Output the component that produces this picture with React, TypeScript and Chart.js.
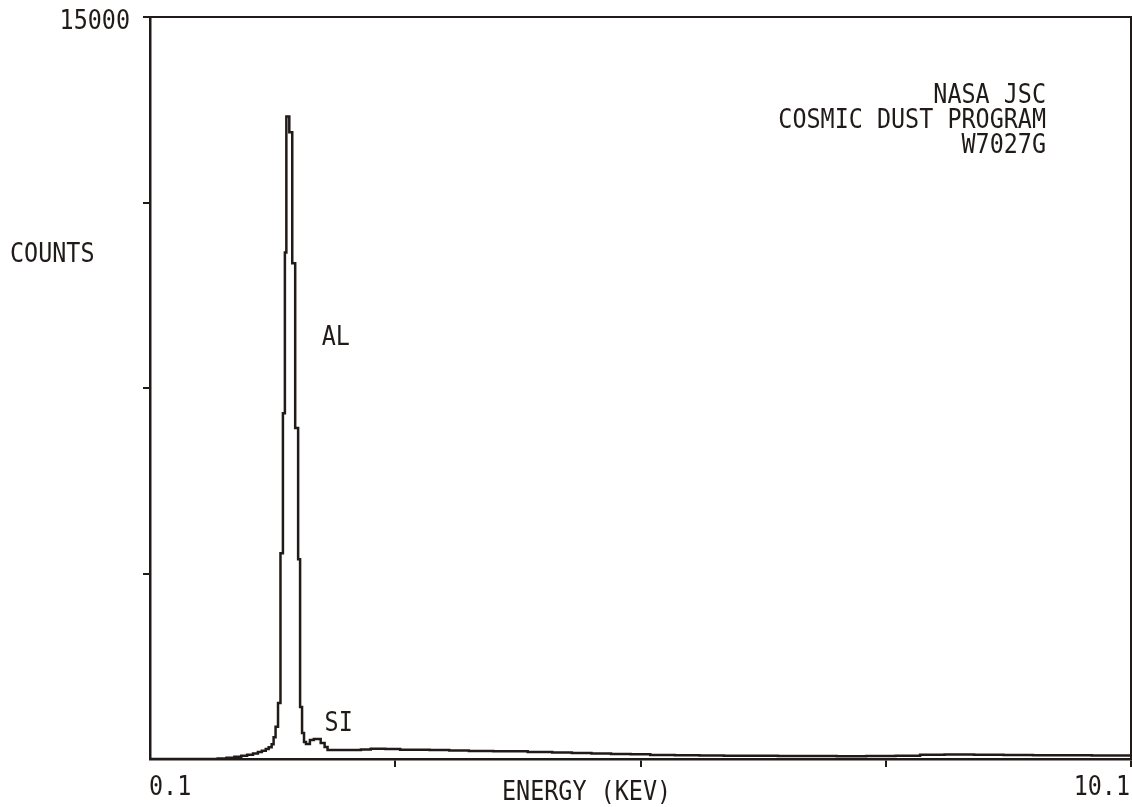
import React, { useEffect, useRef } from 'react';
import { Chart, registerables } from 'chart.js';

Chart.register(...registerables);

// Spectrum (step histogram): left edge of each level, keV, and its counts
const energyKeV = [
  0.10, 0.79, 0.88, 0.96, 1.03, 1.09, 1.15, 1.20, 1.24, 1.28, 1.31, 1.34, 1.36, 1.38,
  1.405, 1.43, 1.455, 1.475, 1.49, 1.52, 1.55, 1.58, 1.61, 1.63, 1.65, 1.67, 1.69,
  1.73, 1.77, 1.84, 1.88, 1.91, 2.05, 2.25, 2.35, 2.50, 2.65, 2.95, 3.15, 3.35, 3.60,
  3.95, 4.20, 4.40, 4.60, 4.80, 5.00, 5.20, 5.45, 5.70, 5.95, 6.20, 6.50, 6.80, 7.10,
  7.40, 7.70, 7.95, 8.20, 8.50, 8.80, 9.10, 9.40, 9.70, 10.10,
];
const counts = [
  0, 10, 25, 45, 65, 85, 110, 140, 165, 200, 240, 300, 440, 650,
  1130, 4160, 6990, 10240, 12990, 12670, 10020, 6690, 4040, 1050, 525, 345, 305,
  385, 405, 325, 245, 180, 180, 190, 205, 200, 185, 180, 170, 160, 155,
  140, 130, 120, 110, 100, 95, 80, 75, 70, 65, 65, 60, 60, 55,
  60, 65, 85, 90, 85, 80, 75, 75, 70, 70,
];

const xTickValues = [0.1, 2.6, 5.1, 7.6, 10.1];
const xTickLabels = ['0.1', '', '', '', '10.1'];
const yTickValues = [0, 3750, 7500, 11250, 15000];
const yTickLabels = ['', '', '', '', '15000'];

const xAxisTitle = 'ENERGY (KEV)';
const yAxisTitle = 'COUNTS';
const titleLines = ['NASA JSC', 'COSMIC DUST PROGRAM', 'W7027G'];

const peakNames = ['AL', 'SI'];
const peakLabelEnergy = [1.85, 1.88];
const peakLabelCounts = [8360, 565];

const INK = '#201b18';
const FONT = '26px "DejaVu Sans Mono", "Liberation Mono", monospace';
const SX = 0.9;

const textPlugin = {
  id: 'plotterText',
  afterDraw(chart: any) {
    const ctx = chart.ctx as CanvasRenderingContext2D;
    const xs = chart.scales.x;
    const ys = chart.scales.y;
    const ca = chart.chartArea;
    ctx.save();
    ctx.fillStyle = INK;
    ctx.font = FONT;
    ctx.textBaseline = 'alphabetic';
    ctx.textAlign = 'left';
    const put = (t: string, x: number, y: number, align: 'left' | 'right' | 'center') => {
      const w = ctx.measureText(t).width * SX;
      let left = x;
      if (align === 'right') left = x - w;
      if (align === 'center') left = x - w / 2;
      ctx.save();
      ctx.translate(left, y);
      ctx.scale(SX, 1);
      ctx.fillText(t, 0, 0);
      ctx.restore();
    };
    yTickValues.forEach((v, i) => {
      if (yTickLabels[i]) put(yTickLabels[i], ca.left - 20, ys.getPixelForValue(v) + 12, 'right');
    });
    xTickValues.forEach((v, i) => {
      const lab = xTickLabels[i];
      if (!lab) return;
      const px = xs.getPixelForValue(v);
      const align = i === 0 ? 'left' : i === xTickValues.length - 1 ? 'right' : 'center';
      put(lab, px - 1, ca.bottom + 36, align);
    });
    put(yAxisTitle, 10, 262, 'left');
    put(xAxisTitle, 502, 800, 'left');
    titleLines.forEach((t, i) => put(t, 1046, 103 + 25 * i, 'right'));
    peakNames.forEach((t, i) => {
      put(t, xs.getPixelForValue(peakLabelEnergy[i]), ys.getPixelForValue(peakLabelCounts[i]), 'left');
    });
    ctx.restore();
  },
};

export default function App() {
  const ref = useRef<HTMLCanvasElement | null>(null);
  useEffect(() => {
    if (!ref.current) return;
    const data = energyKeV.map((e, i) => ({ x: e, y: counts[i] }));
    const chart = new Chart(ref.current, {
      type: 'line',
      data: {
        datasets: [
          {
            data,
            stepped: true,
            borderColor: INK,
            borderWidth: 2.5,
            pointRadius: 0,
            fill: false,
          },
        ],
      },
      options: {
        responsive: false,
        animation: false,
        devicePixelRatio: 1,
        layout: { padding: { left: 0, top: 17, right: 1, bottom: 0 }, autoPadding: false },
        plugins: { legend: { display: false }, tooltip: { enabled: false } },
        scales: {
          x: {
            type: 'linear',
            position: 'bottom',
            min: 0.1,
            max: 10.1,
            afterBuildTicks: (s: any) => {
              s.ticks = xTickValues.map((v) => ({ value: v }));
            },
            afterFit: (s: any) => {
              s.height = 48;
            },
            ticks: { display: false },
            grid: {
              display: true,
              drawOnChartArea: false,
              drawTicks: true,
              tickLength: 8,
              lineWidth: 2,
              color: (c: any) => (c.tick && c.tick.value === xTickValues[0] ? 'rgba(0,0,0,0)' : INK),
            },
            border: { display: true, color: INK, width: 2.5 },
          },
          y: {
            type: 'linear',
            position: 'left',
            min: 0,
            max: 15000,
            afterBuildTicks: (s: any) => {
              s.ticks = yTickValues.map((v) => ({ value: v }));
            },
            afterFit: (s: any) => {
              s.width = 150;
            },
            ticks: { display: false },
            grid: {
              display: true,
              drawOnChartArea: false,
              drawTicks: true,
              tickLength: 7,
              lineWidth: 2,
              color: (c: any) => (c.tick && c.tick.value === yTickValues[0] ? 'rgba(0,0,0,0)' : INK),
            },
            border: { display: true, color: INK, width: 2.5 },
          },
          x2: {
            type: 'linear',
            position: 'top',
            min: 0.1,
            max: 10.1,
            afterFit: (s: any) => {
              s.height = 0;
            },
            ticks: { display: false },
            grid: { display: false },
            border: { display: true, color: INK, width: 2 },
          },
          y2: {
            type: 'linear',
            position: 'right',
            min: 0,
            max: 15000,
            afterFit: (s: any) => {
              s.width = 0;
            },
            ticks: { display: false },
            grid: { display: false },
            border: { display: true, color: INK, width: 2 },
          },
        },
      } as any,
      plugins: [textPlugin],
    });
    return () => chart.destroy();
  }, []);
  return (
    <div style={{ position: 'fixed', left: 0, top: 0, width: 1132, height: 807, background: '#fff' }}>
      <canvas ref={ref} width={1132} height={807} style={{ display: 'block' }} />
    </div>
  );
}
